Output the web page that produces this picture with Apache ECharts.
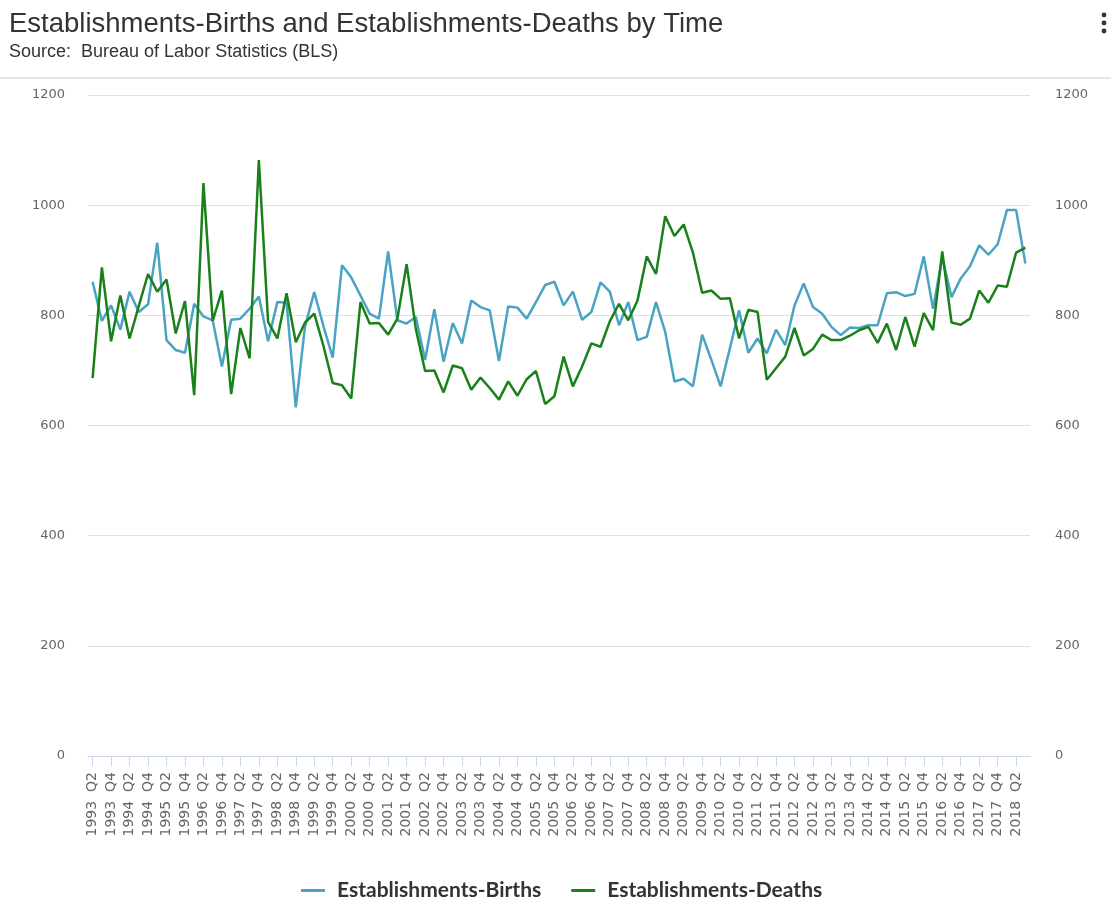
<!DOCTYPE html>
<html>
<head>
<meta charset="utf-8">
<script src="https://cdn.jsdelivr.net/npm/echarts@6/dist/echarts.min.js"></script>
<style>
  html, body { margin: 0; padding: 0; background: #fff; }
  #chart { width: 1111px; height: 898px; }
</style>
</head>
<body>
<div id="chart"></div>
<script>
// Quarters 1993 Q2 .. 2018 Q3
const startYear = 1993;
const startQuarter = 2;
const quarterCount = 102;

const births = [
  861, 790, 818, 774, 843, 806, 820, 932, 755, 737,
  732, 821, 798, 791, 707, 792, 794, 812, 834, 753,
  824, 823, 633, 780, 842, 780, 723, 891, 869, 836,
  803, 794, 916, 791, 785, 797, 719, 811, 716, 786,
  749, 827, 815, 809, 717, 816, 814, 794, 824, 855,
  861, 818, 843, 792, 806, 860, 843, 782, 824, 755,
  761, 824, 770, 680, 685, 671, 765, 719, 671, 740,
  809, 732, 758, 731, 774, 746, 818, 858, 815, 803,
  779, 764, 778, 777, 782, 782, 840, 842, 835, 839,
  907, 812, 905, 833, 867, 889, 927, 910, 929, 991,
  991, 894
];

const deaths = [
  686, 887, 753, 836, 758, 817, 875, 843, 865, 767,
  826, 655, 1040, 790, 845, 657, 777, 722, 1082, 788,
  758, 840, 751, 787, 803, 744, 677, 673, 649, 824,
  785, 786, 765, 794, 893, 775, 699, 700, 660, 709,
  704, 665, 687, 668, 647, 680, 654, 684, 699, 639,
  653, 725, 671, 707, 749, 743, 789, 821, 791, 827,
  907, 875, 980, 944, 965, 914, 841, 845, 830, 831,
  758, 810, 806, 683, 704, 725, 777, 727, 739, 765,
  755, 755, 763, 773, 779, 750, 785, 737, 797, 743,
  804, 773, 916, 787, 783, 794, 845, 823, 854, 852,
  914, 923
];

const seriesNames = ['Establishments-Births', 'Establishments-Deaths'];
const yTicks = { min: 0, max: 1200, interval: 200 };

const categories = [];
for (let k = 0; k < quarterCount; k++) {
  const q0 = startQuarter - 1 + k;
  categories.push((startYear + Math.floor(q0 / 4)) + ' Q' + (q0 % 4 + 1));
}

const chart = echarts.init(document.getElementById('chart'), null, { renderer: 'canvas' });

const axisLabelFont = { color: '#666', fontSize: 13, fontFamily: 'DejaVu Sans' };
const plainNumber = function (v) { return String(v); };

chart.setOption({
  backgroundColor: '#fff',
  animation: false,
  title: {
    text: 'Establishments-Births and Establishments-Deaths by Time',
    subtext: 'Source:  Bureau of Labor Statistics (BLS)',
    left: 4,
    top: 5,
    itemGap: 5,
    textStyle: { fontFamily: 'Liberation Sans', fontSize: 27.5, fontWeight: 'normal', color: '#333' },
    subtextStyle: { fontFamily: 'Liberation Sans', fontSize: 18, color: '#333' }
  },
  graphic: [
    { type: 'line', shape: { x1: 0, y1: 78, x2: 1111, y2: 78 }, style: { stroke: '#dcdcdc', lineWidth: 1.5 } },
    { type: 'circle', shape: { cx: 1104, cy: 15, r: 2.4 }, style: { fill: '#333' } },
    { type: 'circle', shape: { cx: 1104, cy: 23, r: 2.4 }, style: { fill: '#333' } },
    { type: 'circle', shape: { cx: 1104, cy: 31, r: 2.4 }, style: { fill: '#333' } }
  ],
  legend: {
    data: seriesNames,
    top: 875,
    left: 296,
    icon: 'rect',
    itemWidth: 24,
    itemHeight: 3,
    itemGap: 30,
    textStyle: { fontFamily: 'Lato', fontWeight: 'bold', fontSize: 21, color: '#333', padding: [0, 0, 0, 7] }
  },
  grid: { left: 88, right: 81, top: 95, bottom: 142, containLabel: false },
  xAxis: {
    type: 'category',
    data: categories,
    boundaryGap: true,
    axisLine: { show: true, lineStyle: { color: '#ccd6eb', width: 1 } },
    axisTick: { show: true, alignWithLabel: true, interval: 1, length: 10, lineStyle: { color: '#ccd6eb' } },
    axisLabel: Object.assign({
      interval: 1, rotate: 90, margin: 16, fontSize: 14,
      formatter: function (v) { return v.replace(' ', '  '); }
    }, { color: '#666', fontFamily: 'DejaVu Sans' }),
    splitLine: { show: false }
  },
  yAxis: [
    {
      type: 'value', min: yTicks.min, max: yTicks.max, interval: yTicks.interval,
      axisLine: { show: false }, axisTick: { show: false },
      axisLabel: Object.assign({ margin: 23, formatter: plainNumber }, axisLabelFont),
      splitLine: { show: true, lineStyle: { color: '#e0e0e0', width: 1 } }
    },
    {
      type: 'value', min: yTicks.min, max: yTicks.max, interval: yTicks.interval,
      position: 'right',
      axisLine: { show: false }, axisTick: { show: false },
      axisLabel: Object.assign({ margin: 25, formatter: plainNumber }, axisLabelFont),
      splitLine: { show: false }
    }
  ],
  series: [
    {
      name: seriesNames[0], type: 'line', data: births, yAxisIndex: 0,
      symbol: 'none', smooth: false,
      itemStyle: { color: '#4aa3c3' },
      lineStyle: { color: '#4aa3c3', width: 2.5 }
    },
    {
      name: seriesNames[1], type: 'line', data: deaths, yAxisIndex: 1,
      symbol: 'none', smooth: false,
      itemStyle: { color: '#1a801a' },
      lineStyle: { color: '#1a801a', width: 2.5 }
    }
  ]
});
</script>
</body>
</html>
